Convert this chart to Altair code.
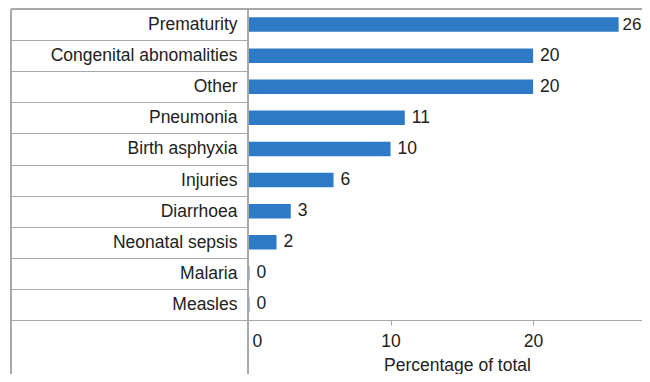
import altair as alt
import pandas as pd

causes = ["Prematurity", "Congenital abnomalities", "Other", "Pneumonia",
          "Birth asphyxia", "Injuries", "Diarrhoea", "Neonatal sepsis",
          "Malaria", "Measles"]
values = [26, 20, 20, 11, 10, 6, 3, 2, 0.1, 0.1]
labels = ["26", "20", "20", "11", "10", "6", "3", "2", "0", "0"]
x_ticks = [0, 10, 20]

df = pd.DataFrame({"cause": causes, "value": values, "label": labels})

W, H = 394, 311
FONT = "Liberation Sans"
TXT = "#222222"
LINE = "#a8a8a8"

xscale = alt.Scale(domain=[0, 27.64], nice=False, zero=True)
yscale = alt.Scale(domain=causes, paddingInner=0, paddingOuter=0)

base = alt.Chart(df)

bars = base.mark_bar(color="#2e7ac6", height=14.5).encode(
    x=alt.X("value:Q", scale=xscale,
            axis=alt.Axis(values=x_ticks, title="Percentage of total", grid=False,
                          domainColor=LINE, tickColor=LINE, tickSize=5,
                          labelAlign={"condition": {"test": "datum.value == 0", "value": "left"},
                                      "value": "center"},
                          labelOffset={"condition": {"test": "datum.value == 0", "value": 4},
                                       "value": 0},
                          labelPadding=7, labelFontSize=17.5, labelColor=TXT, labelFont=FONT,
                          titleFontSize=17.5, titleColor=TXT, titleFont=FONT,
                          titleFontWeight="normal", titleX=209, titleY=50,
                          titleBaseline="alphabetic", titleAnchor="middle")),
    y=alt.Y("cause:N", scale=yscale, sort=causes,
            axis=alt.Axis(title=None, domainColor=LINE, tickColor=LINE,
                          tickSize=237, tickBand="extent", labelPadding=-226,
                          labelFontSize=17.5, labelColor=TXT, labelFont=FONT,
                          labelLimit=400)),
)

text_enc = dict(
    x=alt.X("value:Q", scale=xscale),
    y=alt.Y("cause:N", scale=yscale, sort=causes),
    text="label:N",
)
text = base.transform_filter("datum.value < 25").mark_text(
    align="left", baseline="middle", dx=7, fontSize=17.5, font=FONT, color=TXT
).encode(**text_enc)
text_top = base.transform_filter("datum.value >= 25").mark_text(
    align="left", baseline="middle", dx=4, fontSize=17, font=FONT, color=TXT
).encode(**text_enc)

left_frame = alt.Chart(df).mark_rule(color=LINE).encode(
    x=alt.value(-237), y=alt.value(0), y2=alt.value(H + 54))
axis_ext = alt.Chart(df).mark_rule(color=LINE).encode(
    x=alt.value(0), y=alt.value(0), y2=alt.value(H + 54))
top_line = alt.Chart(df).mark_rule(color=LINE).encode(
    x=alt.value(-237), x2=alt.value(W), y=alt.value(0))

chart = alt.layer(bars, text, text_top, left_frame, axis_ext, top_line).properties(
    width=W, height=H,
    autosize=alt.AutoSizeParams(type="none"),
    padding={"left": 240, "top": 1, "right": 0, "bottom": 54},
).configure_view(stroke=None).configure(background="white")

chart.save("out.html", embed_options={"renderer": "svg", "actions": False})
